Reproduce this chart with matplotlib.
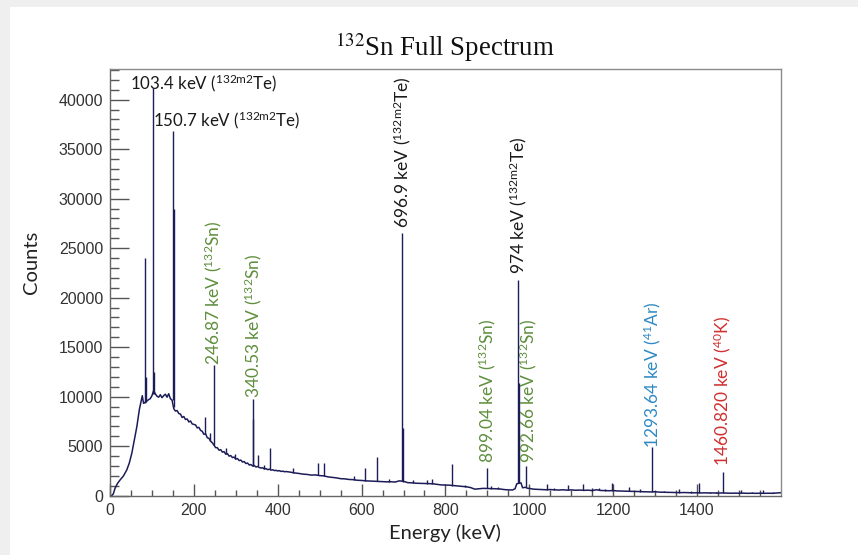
import matplotlib
matplotlib.use('Agg')
import matplotlib.pyplot as plt
from matplotlib.ticker import MultipleLocator
from matplotlib.patches import Rectangle

# ---------------- data ----------------
cont_energy = [4, 8, 12, 18, 24, 32, 40, 46, 52, 58, 64, 70, 74, 77, 80, 86, 92,
               96, 100, 104, 108, 112, 116, 120, 124, 128, 132, 136, 140, 144, 148,
               152, 156, 160, 164, 168, 172, 176, 180, 184, 188, 192, 196, 200, 204,
               208, 212, 216, 220, 224, 228, 232, 236, 240, 244, 248, 252, 256, 260,
               264, 268, 272, 276, 280, 284, 288, 292, 296, 300, 304, 308, 312, 316,
               320, 324, 328, 332, 336, 340, 344, 348, 352, 356, 360, 364, 368, 372,
               376, 380, 384, 388, 392, 396, 400, 404, 408, 412, 416, 420,
               430, 440, 450, 460, 470, 480, 490, 500, 510, 520, 530, 540, 550, 560,
               570, 580, 590, 600, 610, 620, 630, 640, 650, 660, 670, 680, 690, 700,
               710, 720, 730, 740, 750, 760, 770, 780, 790, 800, 810, 820, 830, 840,
               850, 860, 870, 880, 890, 900, 910, 920, 930, 940, 950, 960, 966, 970,
               980, 984, 990, 996, 1000, 1010, 1020, 1030, 1040, 1050, 1060, 1070,
               1080, 1090, 1100, 1110, 1120, 1130, 1140, 1150, 1160, 1170, 1180, 1190,
               1200, 1210, 1220, 1230, 1240, 1250, 1260, 1270, 1280, 1290, 1300, 1310,
               1320, 1330, 1340, 1350, 1360, 1370, 1380, 1390, 1400, 1410, 1420, 1430,
               1440, 1450, 1460, 1470, 1480, 1490, 1500, 1510, 1520, 1530, 1540, 1550,
               1560, 1570, 1580, 1590, 1599]
cont_counts = [0, 200, 750, 1250, 1590, 1990, 2600, 3300, 4280, 5600, 6970, 8700, 9500,
               10100, 9330, 9500, 9700,
               9800, 10100, 10600, 10300, 10050, 9950, 10200, 9900, 10100, 10250, 9950,
               10300, 9800, 9650,
               8800, 8550, 8600, 8300, 8250, 7900, 8000, 7700, 7750, 7450, 7550, 7250,
               7200, 7150, 6850, 6900, 6600, 6500, 6200, 6250, 5850, 5800, 5500, 5350,
               5100, 4850, 4850, 4600, 4650, 4400, 4450, 4200, 4250, 4000, 4050, 3850,
               3900, 3700, 3750, 3550, 3600, 3400, 3450, 3250, 3300, 3100, 3150, 3000,
               3050, 2900, 2950, 2850, 2800, 2820, 2700, 2740, 2630, 2680, 2580, 2620,
               2540, 2560, 2500, 2530, 2450, 2480, 2420, 2440,
               2380, 2300, 2250, 2180, 2150, 2080, 2100, 2030, 2000, 1900, 1850, 1800,
               1720, 1700, 1640, 1620, 1560, 1540, 1500, 1480, 1460, 1440, 1420, 1400,
               1410, 1380, 1500, 1450,
               1320, 1300, 1260, 1250, 1230, 1220, 1200, 1150, 1090, 1080, 1060, 1020,
               990, 950, 900, 820, 660, 700, 740, 730, 710, 700, 680, 620, 590, 580,
               700, 1200, 1300, 800, 850, 750, 740, 660, 640, 620, 600, 620, 590, 570,
               600, 560, 590, 550, 570, 540, 560, 520, 600, 530, 520, 500, 520, 480,
               470, 460, 450, 430, 420, 400, 390, 380, 400, 360, 350, 340, 330, 320,
               310, 320, 300, 290, 300, 280, 290, 270, 280, 260, 280, 260, 250, 260,
               250, 260, 240, 250, 240, 250, 240, 250, 240, 270, 300]

peak_energy = [84.5, 86.5, 103.4, 104.4, 150.7, 151.7, 227, 239.5, 246.87, 276.5, 298.7,
               340.53, 341.5, 352.7, 368.4, 382, 436, 497, 510, 582, 608.8, 636, 666,
               696.9, 697.9, 723, 755, 769, 815.8, 846, 899.04, 909.6, 925.3, 974, 975,
               992.66, 1042, 1060, 1092, 1127.6, 1150, 1167, 1180, 1197.5, 1238.7,
               1265, 1293.64, 1320, 1357, 1385, 1405, 1430, 1445, 1460.82, 1505, 1530,
               1557, 1580]
peak_base = [9400, 9500, 10300, 10300, 9700, 9000, 6250, 5500, 5150, 4200, 3750,
             3000, 3000, 2950, 2700, 2650, 2320, 2050, 2000, 1600, 1500, 1450, 1400,
             1450, 1400, 1290, 1230, 1200, 1030, 910, 730, 710, 690, 1250, 1300,
             850, 600, 590, 560, 550, 520, 580, 520, 510, 450,
             420, 390, 350, 310, 300, 300, 280, 270, 280, 250, 250,
             250, 240]
peak_top = [24000, 12000, 41200, 12500, 36800, 29000, 7980, 6300, 13200, 4790, 4210,
            9800, 7700, 4110, 3100, 4790, 2830, 3270, 3330, 1990, 2770, 3880, 1650,
            26500, 6800, 1590, 1590, 1650, 3200, 1080, 2770, 980, 850, 21800, 11400,
            3000, 1180, 800, 1080, 1180, 750, 800, 700, 1320, 910,
            650, 4950, 500, 650, 450, 1320, 380, 410, 2430, 575, 380,
            575, 380]

# vertical peak labels: energy, text, label start (counts), colour key
vlabel_energy = [246.87, 340.53, 696.9, 974, 899.04, 992.66, 1293.64, 1460.82]
vlabel_text = [r'246.87 keV ($^{\mathrm{132}}$Sn)', r'340.53 keV ($^{\mathrm{132}}$Sn)',
               r'696.9 keV ($^{\mathrm{132m2}}$Te)', r'974 keV ($^{\mathrm{132m2}}$Te)',
               r'899.04 keV ($^{\mathrm{132}}$Sn)', r'992.66 keV ($^{\mathrm{132}}$Sn)',
               r'1293.64 keV ($^{\mathrm{41}}$Ar)', r'1460.820 keV ($^{\mathrm{40}}$K)']
vlabel_y = [13200, 9900, 27000, 22400, 3300, 3300, 4800, 2950]
vlabel_color = ['green', 'green', 'black', 'black', 'green', 'green', 'blue', 'red']

hlabel_text = [r'103.4 keV ($^{\mathrm{132m2}}$Te)', r'150.7 keV ($^{\mathrm{132m2}}$Te)']
hlabel_x = [47.5, 103.7]
hlabel_y = [41050, 37270]

colors = {'green': '#5f8f3e', 'black': '#1a1a1a', 'blue': '#2f8ac4', 'red': '#d03030'}
line_color = '#1c1c58'

# ---------------- figure ----------------
plt.rcParams['mathtext.fontset'] = 'custom'
plt.rcParams['mathtext.rm'] = 'Lato'
plt.rcParams['mathtext.it'] = 'Lato:italic'
plt.rcParams['mathtext.bf'] = 'Lato:bold'

W, H = 858, 555
fig = plt.figure(figsize=(W / 100, H / 100), dpi=100)
fig.patch.set_facecolor('white')
fig.patches.append(Rectangle((0, 0), 10 / W, 1, transform=fig.transFigure,
                             facecolor='#efefef', edgecolor='none', zorder=0))
fig.patches.append(Rectangle((0, 1 - 7 / H), 1, 7 / H, transform=fig.transFigure,
                             facecolor='#efefef', edgecolor='none', zorder=0))

ax = fig.add_axes([110 / W, 1 - 495.7 / H, 670.7 / W, 426.7 / H])
ax.plot(cont_energy, cont_counts, color=line_color, lw=1.1)
ax.vlines(peak_energy, peak_base, peak_top, color=line_color, lw=1.0)

ax.set_xlim(0, 1599.5)
ax.set_ylim(0, 43100)
ax.xaxis.set_major_locator(MultipleLocator(200))
ax.xaxis.set_minor_locator(MultipleLocator(50))
ax.yaxis.set_major_locator(MultipleLocator(5000))
ax.yaxis.set_minor_locator(MultipleLocator(1000))

for s in ax.spines.values():
    s.set_color('#666666')
    s.set_linewidth(1.0)
ax.spines['top'].set_color('#8a8a8a')
ax.spines['right'].set_color('#8a8a8a')

ax.tick_params(axis='both', which='both', direction='in', top=False, right=False,
               colors='#555555', labelcolor='#333333', labelsize=11.5, pad=5)
ax.tick_params(axis='y', which='major', length=13.7, width=1.0)
ax.tick_params(axis='y', which='minor', length=6.5, width=1.0)
ax.tick_params(axis='x', which='major', length=8.6, width=1.0)
ax.tick_params(axis='x', which='minor', length=4.3, width=1.0)
for lab in ax.get_xticklabels() + ax.get_yticklabels():
    lab.set_family('Liberation Sans')

for e, t, y, c in zip(vlabel_energy, vlabel_text, vlabel_y, vlabel_color):
    dx = 4 if 990 < e < 1000 else 0
    ax.text(e + dx, y, t, rotation=90, ha='center', va='bottom', color=colors[c],
            fontsize=12.5, family='Lato')

for x, y, t in zip(hlabel_x, hlabel_y, hlabel_text):
    ax.text(x, y, t, ha='left', va='baseline', color=colors['black'],
            fontsize=12.2, family='Lato')

fig.text(445 / W, 1 - 56 / H, r'$^{132}$Sn Full Spectrum', ha='center', va='baseline',
         family='Liberation Serif', fontsize=19.4, math_fontfamily='stix', color='#111111')
fig.text(32 / W, 1 - 262 / H, 'Counts', rotation=90, ha='center', va='center',
         family='Lato', fontsize=14.5, color='#222222')
fig.text(445 / W, 1 - 533 / H, 'Energy (keV)', ha='center', va='center',
         family='Lato', fontsize=14.5, color='#222222')

fig.savefig('out.png', dpi=100)
